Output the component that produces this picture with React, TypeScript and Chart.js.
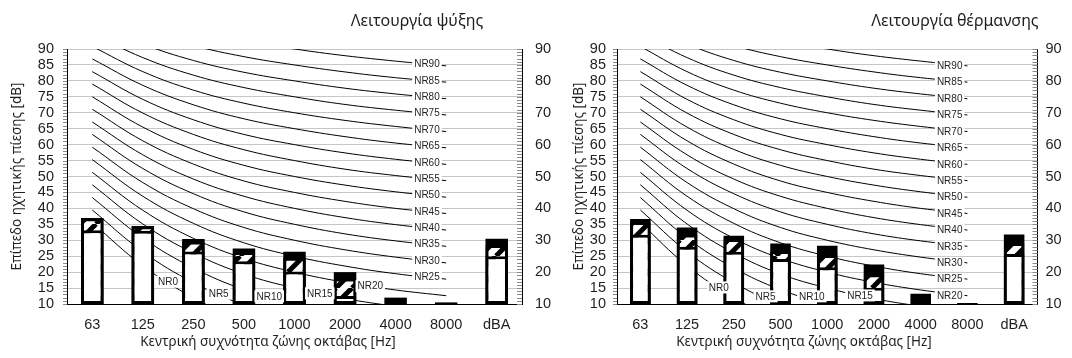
import { useEffect, useRef } from "react";
import { Chart, registerables } from "chart.js";

Chart.register(...registerables);

// Octave band centre frequencies and the overall A-weighted level
const bands = ["63", "125", "250", "500", "1000", "2000", "4000", "8000", "dBA"];

// Noise Rating curves: sound pressure level [dB] at 63 … 8000 Hz
const nrNames = [
  "NR0", "NR5", "NR10", "NR15", "NR20", "NR25", "NR30", "NR35", "NR40", "NR45",
  "NR50", "NR55", "NR60", "NR65", "NR70", "NR75", "NR80", "NR85", "NR90",
];
const nr0 = [35.5, 22.0, 12.0, 4.8, 0.0, -3.5, -6.1, -8.0];
const nr5 = [39.5, 26.4, 16.7, 9.7, 5.0, 1.6, -1.0, -2.9];
const nr10 = [43.4, 30.7, 21.3, 14.5, 10.0, 6.7, 4.2, 2.3];
const nr15 = [47.4, 35.1, 26.0, 19.4, 15.0, 11.7, 9.3, 7.5];
const nr20 = [51.3, 39.4, 30.6, 24.3, 20.0, 16.8, 14.4, 12.6];
const nr25 = [55.3, 43.8, 35.3, 29.2, 25.0, 21.9, 19.5, 17.8];
const nr30 = [59.2, 48.1, 39.9, 34.0, 30.0, 27.0, 24.7, 22.9];
const nr35 = [63.2, 52.5, 44.6, 38.9, 35.0, 32.0, 29.8, 28.1];
const nr40 = [67.1, 56.8, 49.2, 43.8, 40.0, 37.1, 34.9, 33.2];
const nr45 = [71.1, 61.2, 53.9, 48.6, 45.0, 42.2, 40.0, 38.4];
const nr50 = [75.0, 65.5, 58.5, 53.5, 50.0, 47.3, 45.2, 43.5];
const nr55 = [79.0, 69.9, 63.2, 58.4, 55.0, 52.3, 50.3, 48.7];
const nr60 = [82.9, 74.2, 67.8, 63.2, 60.0, 57.4, 55.4, 53.8];
const nr65 = [86.9, 78.6, 72.5, 68.1, 65.0, 62.5, 60.5, 59.0];
const nr70 = [90.8, 82.9, 77.1, 73.0, 70.0, 67.6, 65.7, 64.1];
const nr75 = [94.8, 87.3, 81.8, 77.9, 75.0, 72.6, 70.8, 69.3];
const nr80 = [98.7, 91.6, 86.4, 82.7, 80.0, 77.7, 75.9, 74.4];
const nr85 = [102.7, 96.0, 91.1, 87.6, 85.0, 82.8, 81.0, 79.6];
const nr90 = [106.6, 100.3, 95.7, 92.5, 90.0, 87.9, 86.2, 84.7];
const nrCurves = [
  nr0, nr5, nr10, nr15, nr20, nr25, nr30, nr35, nr40, nr45,
  nr50, nr55, nr60, nr65, nr70, nr75, nr80, nr85, nr90,
];

// Cooling mode: sound pressure level per band for low / medium / high fan speed
const coolingLow = [33.1, 33.0, 26.5, 23.4, 20.2, 12.5, null, null, 25.0];
const coolingMid = [36.9, 34.4, 29.6, 26.3, 24.5, 18.0, null, null, 28.5];
const coolingHigh = [37.0, 34.5, 30.4, 27.4, 26.4, 20.0, 12.0, 10.5, 30.5];

// Heating mode: sound pressure level per band for low / medium / high fan speed
const heatingLow = [31.7, 28.0, 26.4, 24.1, 21.5, 15.1, null, null, 25.7];
const heatingMid = [35.7, 31.8, 30.4, 26.6, 25.4, 19.3, null, null, 29.1];
const heatingHigh = [36.7, 34.0, 31.4, 29.0, 28.3, 22.4, 13.2, 10.3, 31.8];

// Where each NR label sits, in category units along the x axis
const coolingLabelAt = [
  1.5, 2.5, 3.5, 4.5, 5.5, 6.62, 6.62, 6.62, 6.62, 6.62,
  6.62, 6.62, 6.62, 6.62, 6.62, 6.62, 6.62, 6.62, 6.62,
];
const heatingLabelAt = [
  1.68, 2.68, 3.67, 4.7, 6.62, 6.62, 6.62, 6.62, 6.62, 6.62,
  6.62, 6.62, 6.62, 6.62, 6.62, 6.62, 6.62, 6.62, 6.62,
];

const yTicksLeft = { min: 10, max: 90, step: 5 };
const yTicksRight = { min: 10, max: 90, step: 10 };

const TEXT = "#1f1f1f";
const TICK_FONT = { family: "'Liberation Sans', Arial, sans-serif", size: 14.5 };
const TITLE_FAMILY = "'Noto Sans', 'Open Sans', sans-serif";

type Series = (number | null)[];

interface PanelConfig {
  title: string;
  low: Series;
  mid: Series;
  high: Series;
  labelAt: number[];
  labelLevelShift: number;
  pageLeft: number;
  width: number;
  yAxisWidth: number;
  y2AxisWidth: number;
  yTickPad: number;
  y2TickPad: number;
  yTitleX: number;
  titleX: number;
  barPct: number;
}

function makeHatch(ctx: CanvasRenderingContext2D): CanvasPattern | string {
  const tile = document.createElement("canvas");
  tile.width = 16;
  tile.height = 16;
  const t = tile.getContext("2d");
  if (!t) return "#888";
  t.fillStyle = "#fff";
  t.fillRect(0, 0, 16, 16);
  t.strokeStyle = "#000";
  t.lineWidth = 5;
  for (const o of [-16, 0, 16]) {
    t.beginPath();
    t.moveTo(o, 16);
    t.lineTo(o + 16, 0);
    t.stroke();
  }
  return ctx.createPattern(tile, "repeat") || "#888";
}

// Level of an NR curve at a fractional band position
function curveLevel(curve: number[], pos: number): number {
  const p = Math.min(pos, curve.length - 1);
  const k = Math.min(Math.floor(p), curve.length - 2);
  const f = p - k;
  return curve[k] + (curve[k + 1] - curve[k]) * f;
}

function NoisePanel({ cfg }: { cfg: PanelConfig }) {
  const ref = useRef<HTMLCanvasElement | null>(null);

  useEffect(() => {
    const canvas = ref.current;
    if (!canvas) return;
    const ctx2d = canvas.getContext("2d");
    if (!ctx2d) return;
    const hatch = makeHatch(ctx2d);
    const base = yTicksLeft.min;
    const floating = (vals: Series) => vals.map((v) => (v == null ? null : [base, v]));

    const curveSets = nrCurves.map((c, i) => ({
      type: "line" as const,
      label: nrNames[i],
      data: c,
      yAxisID: "y",
      borderColor: "#000",
      borderWidth: 1,
      pointRadius: 0,
      tension: 0.4,
      fill: false,
      order: 10,
    }));

    const barCommon = {
      type: "bar" as const,
      yAxisID: "y",
      barPercentage: cfg.barPct,
      categoryPercentage: 1,
      borderSkipped: false as const,
      borderColor: "#000",
    };

    const labelFloor = 12.4;

    const decor = {
      id: "panelDecor",
      afterDatasetsDraw(chart: any) {
        const { ctx } = chart;
        const x = chart.scales.x;
        const y = chart.scales.y;
        ctx.save();
        ctx.font = "10px 'Liberation Sans', Arial, sans-serif";
        ctx.textAlign = "center";
        ctx.textBaseline = "middle";
        nrNames.forEach((name, i) => {
          const pos = cfg.labelAt[i];
          const k = Math.floor(pos);
          const f = pos - k;
          const levelPos = pos > 6 ? pos + cfg.labelLevelShift : pos;
          const v = curveLevel(nrCurves[i], levelPos);
          const px = x.getPixelForValue(k) + (x.getPixelForValue(k + 1) - x.getPixelForValue(k)) * f;
          const py = y.getPixelForValue(Math.max(v, labelFloor));
          const w = ctx.measureText(name).width + 4;
          ctx.fillStyle = "#fff";
          ctx.fillRect(px - w / 2, py - 6, w, 12);
          ctx.fillStyle = TEXT;
          ctx.fillText(name, px, py + 0.5);
        });
        ctx.restore();
      },
      afterDraw(chart: any) {
        const { ctx, chartArea } = chart;
        const y = chart.scales.y;
        ctx.save();
        // minor tick marks every 1 dB on both value axes
        ctx.strokeStyle = "#8a8a8a";
        ctx.lineWidth = 1;
        ctx.beginPath();
        for (let v = yTicksLeft.min; v <= yTicksLeft.max; v++) {
          const py = Math.round(y.getPixelForValue(v)) + 0.5;
          ctx.moveTo(chartArea.left - 4, py);
          ctx.lineTo(chartArea.left, py);
          ctx.moveTo(chartArea.right - 5, py);
          ctx.lineTo(chartArea.right, py);
        }
        ctx.stroke();

        ctx.fillStyle = TEXT;
        ctx.textAlign = "center";
        ctx.textBaseline = "middle";
        // panel title
        ctx.font = `16px ${TITLE_FAMILY}`;
        ctx.fillText(cfg.title, cfg.titleX, 21);
        // x axis title, centred on the panel
        ctx.font = `13.5px ${TITLE_FAMILY}`;
        ctx.fillText("Κεντρική συχνότητα ζώνης οκτάβας [Hz]", 268, 342);
        // y axis title
        ctx.translate(cfg.yTitleX, (chartArea.top + chartArea.bottom) / 2);
        ctx.rotate(-Math.PI / 2);
        ctx.fillText("Επίπεδο ηχητικής πίεσης [dB]", 0, 0);
        ctx.restore();
      },
    };

    const chart = new Chart(canvas, {
      type: "bar",
      data: {
        labels: bands,
        datasets: [
          ...curveSets,
          {
            ...barCommon,
            label: "high",
            data: floating(cfg.high),
            backgroundColor: "#000",
            borderWidth: 0,
            order: 3,
          },
          {
            ...barCommon,
            label: "medium",
            data: floating(cfg.mid),
            backgroundColor: hatch,
            borderWidth: 3,
            order: 2,
          },
          {
            ...barCommon,
            label: "low",
            data: floating(cfg.low),
            backgroundColor: "#fff",
            borderWidth: 3,
            order: 1,
          },
        ] as any,
      },
      options: {
        animation: false,
        responsive: false,
        devicePixelRatio: 1,
        layout: { padding: { top: 49, left: 0, right: 0, bottom: 0 } },
        plugins: { legend: { display: false }, tooltip: { enabled: false } },
        scales: {
          x: {
            type: "category",
            stacked: true,
            grid: { display: false, drawTicks: false },
            border: { display: true, color: "#000", width: 1 },
            ticks: { font: TICK_FONT, color: TEXT, padding: 12, autoSkip: false, maxRotation: 0 },
            afterFit: (s: any) => {
              s.height = 54;
            },
          },
          y: {
            position: "left",
            min: yTicksLeft.min,
            max: yTicksLeft.max,
            ticks: {
              stepSize: yTicksLeft.step,
              autoSkip: false,
              font: TICK_FONT,
              color: TEXT,
              padding: cfg.yTickPad,
            },
            grid: { color: "#c6c6c6", lineWidth: 1, drawTicks: false },
            border: { display: true, color: "#000", width: 1 },
            afterFit: (s: any) => {
              s.width = cfg.yAxisWidth;
            },
          },
          y2: {
            position: "right",
            min: yTicksRight.min,
            max: yTicksRight.max,
            ticks: {
              stepSize: yTicksRight.step,
              autoSkip: false,
              font: TICK_FONT,
              color: TEXT,
              padding: cfg.y2TickPad,
            },
            grid: { display: false, drawTicks: false },
            border: { display: true, color: "#000", width: 1 },
            afterFit: (s: any) => {
              s.width = cfg.y2AxisWidth;
            },
          },
        },
      } as any,
      plugins: [decor],
    });

    return () => chart.destroy();
  }, [cfg]);

  return (
    <canvas
      ref={ref}
      width={cfg.width}
      height={358}
      style={{ position: "absolute", left: cfg.pageLeft, top: 0, width: cfg.width, height: 358 }}
    />
  );
}

const coolingPanel: PanelConfig = {
  title: "Λειτουργία ψύξης",
  low: coolingLow,
  mid: coolingMid,
  high: coolingHigh,
  labelAt: coolingLabelAt,
  labelLevelShift: 0,
  pageLeft: 0,
  width: 575,
  yAxisWidth: 67,
  y2AxisWidth: 53,
  yTickPad: 13,
  y2TickPad: 13,
  yTitleX: 17.5,
  titleX: 417,
  barPct: 0.445,
};

const heatingPanel: PanelConfig = {
  title: "Λειτουργία θέρμανσης",
  low: heatingLow,
  mid: heatingMid,
  high: heatingHigh,
  labelAt: heatingLabelAt,
  labelLevelShift: 0.38,
  pageLeft: 536,
  width: 536,
  yAxisWidth: 81,
  y2AxisWidth: 34.5,
  yTickPad: 11,
  y2TickPad: 8,
  yTitleX: 43,
  titleX: 419,
  barPct: 0.44,
};

export default function App() {
  return (
    <div
      style={{
        position: "fixed",
        left: 0,
        top: 0,
        width: 1072,
        height: 358,
        background: "#fff",
        overflow: "hidden",
      }}
    >
      <NoisePanel cfg={coolingPanel} />
      <NoisePanel cfg={heatingPanel} />
    </div>
  );
}
